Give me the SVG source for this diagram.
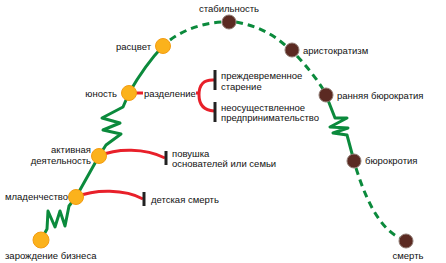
<svg xmlns="http://www.w3.org/2000/svg" width="446" height="263" viewBox="0 0 446 263">
<style>
.g{fill:none;stroke:#0b8a3c;stroke-width:3;stroke-linecap:round;stroke-linejoin:round}
.d{stroke-dasharray:7 5;stroke-linecap:butt}
.r{fill:none;stroke:#e8202a;stroke-width:3}
.bar{stroke:#222;stroke-width:3}
.o{fill:#fbb21c;stroke:#f39c12;stroke-width:1}
.b{fill:#5b2a22;stroke:#8f7a72;stroke-width:1}
text{font-family:"Liberation Sans",Arial,sans-serif;font-size:9.5px;fill:#111}
.e{text-anchor:end}
.m{text-anchor:middle}
</style>
<rect width="446" height="263" fill="#fff"/>
<g id="connectors">
<path class="g" d="M41,240 L47,229 L48,211 L55,227 L60,211 L65,226 L69,206 L76,197"/>
<path class="g" d="M76,197 L99,156"/>
<path class="g" d="M99,156 L106,145 L121,134 L103,130 L120,123 L102,118 L123,107 L129,93"/>
<path class="g" d="M129,93 Q145,65 163,46"/>
<path class="g d" d="M170,40 Q192,24 222,22"/>
<path class="g d" d="M236,22 Q265,27 286,46"/>
<path class="g d" d="M297,56 Q312,72 323,89"/>
<path class="g" d="M326,95 L335,118 L347,118 L330,127 L348,128 L333,133 L347,135 L354,161"/>
<path class="g d" d="M356,168 Q374,226 400,238"/>
<path class="r" d="M99,156 C117,148 145,148 165,158"/>
<path class="r" d="M76,197 C95,189 125,189 143,199"/>
<path class="r" d="M136,93 L143,93"/>
<path class="r" d="M196,93 L199,93 M214,80 Q199,79 199,95 Q199,110 214,111"/>
<line class="bar" x1="215" y1="70" x2="215" y2="90"/>
<line class="bar" x1="215" y1="102" x2="215" y2="122"/>
<line class="bar" x1="166" y1="151" x2="166" y2="165"/>
<line class="bar" x1="144" y1="192" x2="144" y2="206"/>
</g>
<g id="n1"><circle class="o" cx="41" cy="240" r="8"/><text x="5" y="258.5">зарождение бизнеса</text></g>
<g id="n2"><circle class="o" cx="76" cy="197" r="7.5"/><text x="5" y="199.5">младенчество</text></g>
<g id="n3"><circle class="o" cx="99" cy="156" r="7.5"/><text class="e" x="91" y="152.5">активная</text><text class="e" x="91" y="163.5">деятельность</text></g>
<g id="n4"><circle class="o" cx="129" cy="93" r="7.5"/><text class="e" x="117" y="96.5">юность</text><text x="144" y="96.5">разделение</text></g>
<g id="n5"><circle class="o" cx="163" cy="46" r="7.5"/><text class="e" x="151" y="49.5">расцвет</text></g>
<g id="n6"><circle class="b" cx="229" cy="22" r="7"/><text class="m" x="229" y="11.5">стабильность</text></g>
<g id="n7"><circle class="b" cx="292" cy="50" r="7"/><text x="303" y="53.5">аристократизм</text></g>
<g id="n8"><circle class="b" cx="326" cy="95" r="7"/><text x="337" y="98.5">ранняя бюрократия</text></g>
<g id="n9"><circle class="b" cx="354" cy="161" r="7"/><text x="365" y="163.5">бюрокротия</text></g>
<g id="n10"><circle class="b" cx="406" cy="241" r="7"/><text class="m" x="408" y="258.5">смерть</text></g>
<g id="t1"><text x="221" y="79">преждевременное</text><text x="221" y="89.5">старение</text></g>
<g id="t2"><text x="221" y="110.5">неосуществленное</text><text x="221" y="121">предпринимательство</text></g>
<g id="t3"><text x="172" y="156.5">повушка</text><text x="172" y="167">основателей или семьи</text></g>
<g id="t4"><text x="151" y="202.5">детская смерть</text></g>
</svg>
